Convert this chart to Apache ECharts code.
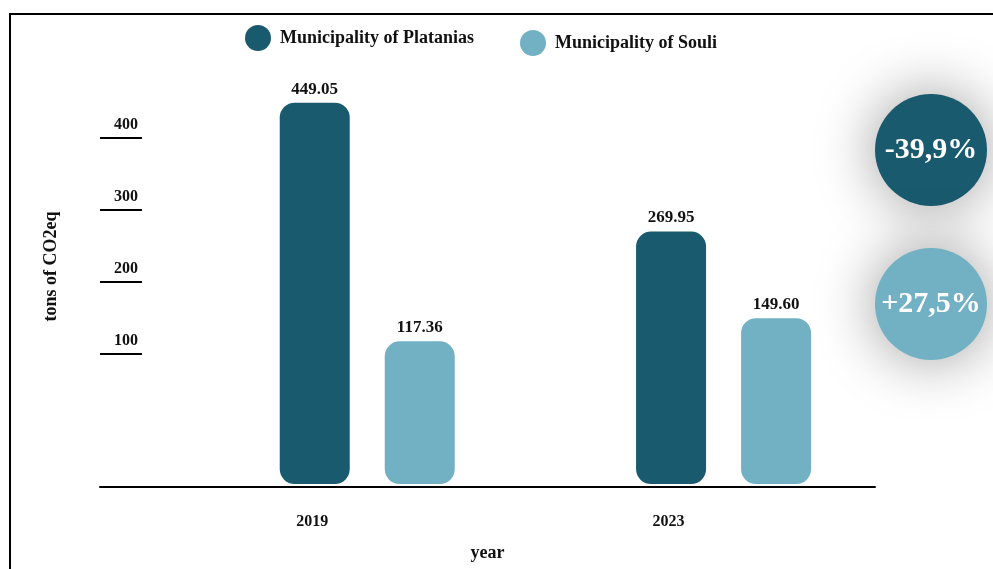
<!DOCTYPE html>
<html>
<head>
<meta charset="utf-8">
<script src="https://cdn.jsdelivr.net/npm/echarts@6/dist/echarts.min.js"></script>
<style>
html,body{margin:0;padding:0;background:#fff;}
#chart{width:993px;height:569px;}
</style>
</head>
<body>
<div id="chart"></div>
<script>
// ---- data ----
var years = [2019, 2023];
var seriesNames = ['Municipality of Platanias', 'Municipality of Souli'];
var platanias = [449.05, 269.95];
var souli = [117.36, 149.60];
var yTickValues = [100, 200, 300, 400];
var changeLabels = ['-39,9%', '+27,5%'];

var DARK = '#1a5a6e';
var LIGHT = '#72b0c4';
var FONT = "'Liberation Serif', 'Times New Roman', serif";

var chart = echarts.init(document.getElementById('chart'), null, {renderer: 'canvas'});

function pairs(vals) { return years.map(function (y, i) { return [y, vals[i]]; }); }

var labelCfg = {
  show: true, position: 'top', distance: 5,
  fontFamily: FONT, fontWeight: 'bold', fontSize: 17, color: '#111',
  formatter: function (p) { return p.value[1].toFixed(2); }
};

var option = {
  animation: false,
  backgroundColor: '#fff',
  textStyle: {fontFamily: FONT},
  grid: {left: 100, right: 118, top: 66, bottom: 82, containLabel: false},
  legend: [
    {data: [seriesNames[0]], left: 240, top: 20, icon: 'circle', itemWidth: 26, itemHeight: 26,
     textStyle: {fontFamily: FONT, fontWeight: 'bold', fontSize: 18, color: '#111', padding: [0, 0, 0, 4]}},
    {data: [seriesNames[1]], left: 515, top: 25, icon: 'circle', itemWidth: 26, itemHeight: 26,
     textStyle: {fontFamily: FONT, fontWeight: 'bold', fontSize: 18, color: '#111', padding: [0, 0, 0, 4]}}
  ],
  xAxis: {
    type: 'value', min: 2016, max: 2024.7,
    name: 'year', nameLocation: 'middle', nameGap: 57,
    nameTextStyle: {fontFamily: FONT, fontWeight: 'bold', fontSize: 18, color: '#111'},
    axisLine: {show: true, onZero: false, lineStyle: {color: '#000', width: 2}},
    axisTick: {show: false},
    splitLine: {show: false},
    axisLabel: {
      customValues: years, margin: 27, padding: [0, 110, 0, 0],
      fontFamily: FONT, fontWeight: 'bold', fontSize: 16, color: '#111',
      formatter: function (v) { return String(v); }
    }
  },
  yAxis: {
    type: 'value', min: -85, max: 500, startValue: -81,
    name: 'tons of CO2eq', nameLocation: 'middle', nameGap: 40,
    nameTextStyle: {fontFamily: FONT, fontWeight: 'bold', fontSize: 18, color: '#111', padding: [0, 0, 0, 20]},
    axisLine: {show: false, onZero: false},
    splitLine: {show: false},
    axisTick: {show: true, inside: true, length: 42, customValues: yTickValues,
               lineStyle: {color: '#000', width: 2}},
    axisLabel: {
      customValues: yTickValues, margin: -38, align: 'right', verticalAlign: 'bottom',
      padding: [0, 0, 5, 0],
      fontFamily: FONT, fontWeight: 'bold', fontSize: 16, color: '#111'
    }
  },
  series: [
    {name: seriesNames[0], type: 'bar', data: pairs(platanias), barWidth: 70, barGap: '50%',
     itemStyle: {color: DARK, borderRadius: 15}, label: labelCfg},
    {name: seriesNames[1], type: 'bar', data: pairs(souli), barWidth: 70, barGap: '50%',
     itemStyle: {color: LIGHT, borderRadius: 15}, label: labelCfg}
  ],
  graphic: [
    {type: 'polyline', shape: {points: [[10, 569], [10, 14], [993, 14]]},
     style: {stroke: '#000', lineWidth: 2, fill: null}, silent: true},
    {type: 'circle', shape: {cx: 931, cy: 150, r: 56},
     style: {fill: DARK, shadowBlur: 60, shadowColor: 'rgba(0,0,0,0.4)'}, z: 10},
    {type: 'text', x: 931, y: 150, z: 11,
     style: {text: changeLabels[0], fill: '#fff', font: 'bold 30px ' + FONT, align: 'center', verticalAlign: 'middle'}},
    {type: 'circle', shape: {cx: 931, cy: 304, r: 56},
     style: {fill: LIGHT, shadowBlur: 60, shadowColor: 'rgba(0,0,0,0.4)'}, z: 10},
    {type: 'text', x: 931, y: 304, z: 11,
     style: {text: changeLabels[1], fill: '#fff', font: 'bold 30px ' + FONT, align: 'center', verticalAlign: 'middle'}}
  ]
};
chart.setOption(option);
</script>
</body>
</html>
